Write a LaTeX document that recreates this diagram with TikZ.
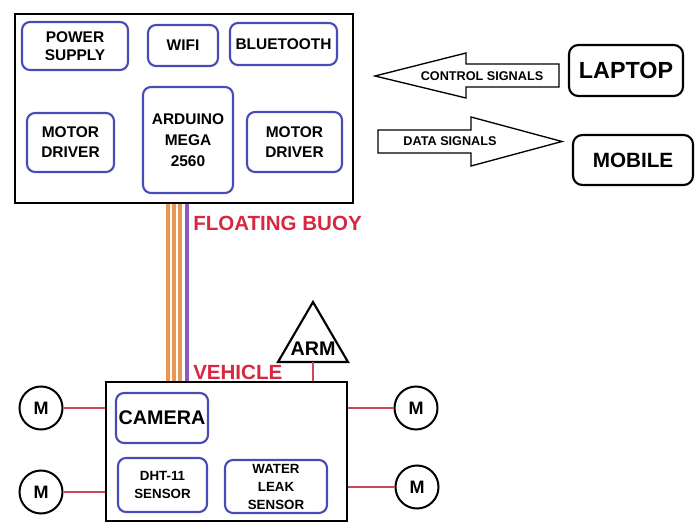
\documentclass[tikz,border=0pt]{standalone}
\usepackage{fontspec}
\setmainfont{Liberation Sans}
\usepackage{xcolor}
\definecolor{partblue}{RGB}{72,74,182}
\definecolor{buoyred}{RGB}{214,40,64}
\definecolor{linkred}{RGB}{205,70,90}
\definecolor{wireorange}{RGB}{232,150,80}
\definecolor{wirepurple}{RGB}{140,90,190}
\usetikzlibrary{positioning,calc}

\begin{document}
\begin{tikzpicture}[x=0.75pt, y=-0.75pt,
  part/.style={rectangle, rounded corners=6pt, draw=partblue, line width=1.6pt,
               inner sep=0pt, align=center, font=\fontsize{11.6}{13.5}\selectfont\bfseries},
  dev/.style={rectangle, rounded corners=7pt, draw=black, line width=1.6pt,
              inner sep=0pt, align=center},
  unit/.style={rectangle, draw=black, line width=2pt, inner sep=0pt},
  motor/.style={circle, draw=black, line width=1.5pt, minimum size=32.25pt,
                inner sep=0pt, font=\fontsize{13.5}{15}\selectfont\bfseries},
  tag/.style={inner sep=0pt, anchor=west, text=buoyred,
              font=\fontsize{15.4}{17}\selectfont\bfseries},
  sig/.style={draw=black, line width=1pt, fill=white},
  siglbl/.style={inner sep=0pt, font=\fontsize{9.5}{11}\selectfont\bfseries},
  link/.style={draw=linkred, line width=0.9pt},
  cable/.style={line width=2.4pt}
]
\useasboundingbox (0,0) rectangle (696,523);

% floating buoy unit
\node[unit, minimum width=253.5pt, minimum height=141.75pt] (buoy) at (184,108.5) {};
\node[part, minimum width=79.5pt, minimum height=36pt] (power) at (75,46) {POWER\\SUPPLY};
\node[part, minimum width=52.5pt, minimum height=30.75pt] (wifi) at (183,45.5) {WIFI};
\node[part, minimum width=80.25pt, minimum height=31.5pt] (bt) at (283.5,44) {BLUETOOTH};
\node[part, minimum width=65.25pt, minimum height=44.25pt,
      font=\fontsize{11.6}{15}\selectfont\bfseries] (mdl) at (70.5,142.5) {MOTOR\\DRIVER};
\node[part, minimum width=67.5pt, minimum height=79.5pt,
      font=\fontsize{11.6}{15.75}\selectfont\bfseries] (mega) at (188,140) {ARDUINO\\MEGA\\2560};
\node[part, minimum width=71.25pt, minimum height=45pt,
      font=\fontsize{11.6}{15}\selectfont\bfseries] (mdr) at (294.5,142) {MOTOR\\DRIVER};

% remote devices
\node[dev, minimum width=85.5pt, minimum height=38.25pt,
      font=\fontsize{17.5}{19}\selectfont\bfseries] (laptop) at (626,70.5) {LAPTOP};
\node[dev, minimum width=90pt, minimum height=37.5pt,
      font=\fontsize{15.5}{17}\selectfont\bfseries] (mobile) at (633,160) {MOBILE};

% signal arrows
\draw[sig] (559,64) -- (466,64) -- (466,53) -- (375,76) -- (466,98) -- (466,87) -- (559,87) -- cycle;
\node[siglbl] (ctrl) at (482,76) {CONTROL SIGNALS};
\draw[sig] (378,130) -- (471,130) -- (471,117) -- (562,141.5) -- (471,166) -- (471,153) -- (378,153) -- cycle;
\node[siglbl] (data) at (450,141.5) {DATA SIGNALS};

% vehicle unit
\node[unit, minimum width=180.75pt, minimum height=104.25pt] (veh) at (226.5,451.5) {};
\node[part, minimum width=69pt, minimum height=37.5pt,
      font=\fontsize{14.8}{16}\selectfont\bfseries] (cam) at (162,418) {CAMERA};
\node[part, minimum width=66.75pt, minimum height=40.5pt,
      font=\fontsize{10}{13.5}\selectfont\bfseries] (dht) at (162.5,485) {DHT-11\\SENSOR};
\node[part, minimum width=76.5pt, minimum height=39.75pt,
      font=\fontsize{10}{13.5}\selectfont\bfseries] (leak) at (276,486.5) {WATER\\LEAK\\SENSOR};

% tether cables
\foreach \x in {168,174,180}
  \draw[cable, wireorange] (\x,0 |- buoy.south) -- (\x,0 |- veh.north);
\draw[cable, wirepurple] (187,0 |- buoy.south) -- (187,0 |- veh.north);

\node[tag] (buoytag) at (193,223) {FLOATING BUOY};
\node[tag] (vehtag) at (193,372) {VEHICLE};

% arm
\draw[line width=1.6pt, line join=miter] (313,302) -- (348,362) -- (278,362) -- cycle;
\node[inner sep=0pt, font=\fontsize{14.8}{16}\selectfont\bfseries] (arm) at (313,349) {ARM};
\coordinate (armbase) at (313,362);
\draw[link] (armbase) -- (armbase |- veh.north);

% thrusters
\node[motor] (m1) at (41,408) {M};
\node[motor] (m2) at (41,492) {M};
\node[motor] (m3) at (416,408) {M};
\node[motor] (m4) at (417,487) {M};
\draw[link] (m1.east) -- (m1.east -| veh.west);
\draw[link] (m2.east) -- (m2.east -| veh.west);
\draw[link] (m3.west) -- (m3.west -| veh.east);
\draw[link] (m4.west) -- (m4.west -| veh.east);
\end{tikzpicture}
\end{document}
